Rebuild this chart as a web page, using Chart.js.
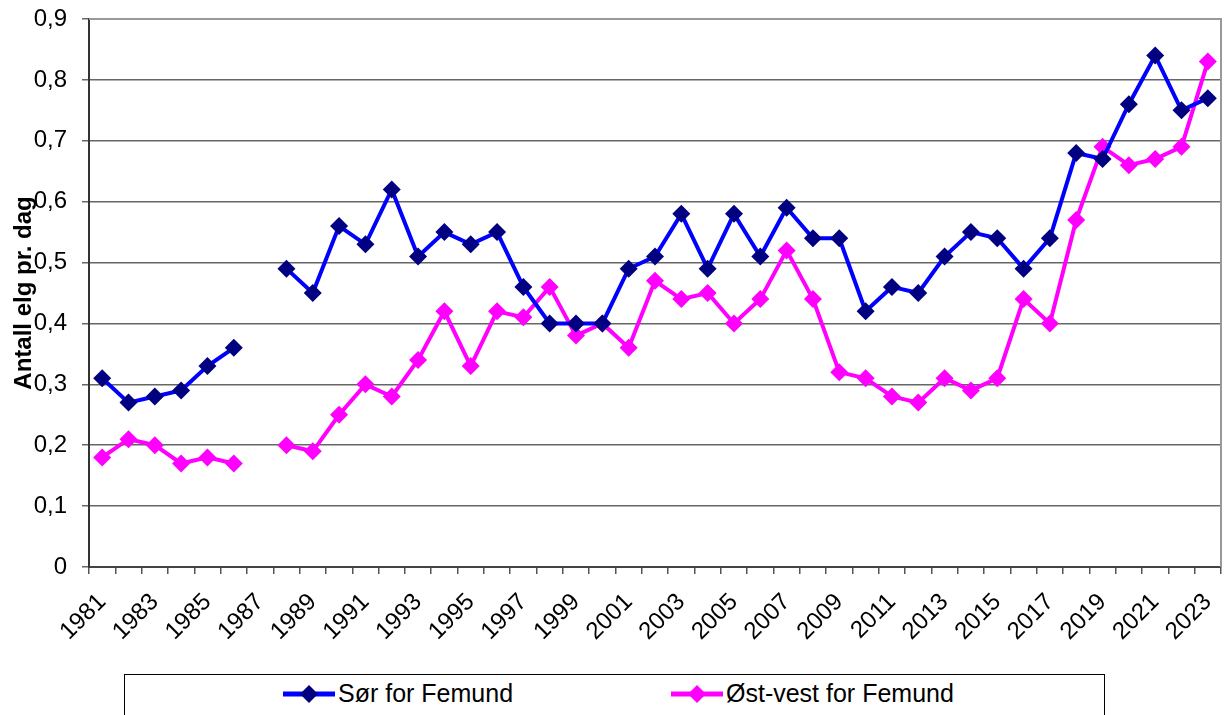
<!DOCTYPE html>
<html>
<head>
<meta charset="utf-8">
<script src="https://cdn.jsdelivr.net/npm/chart.js@4.4.1/dist/chart.umd.min.js"></script>
<style>
    body { margin: 0; background: #fff; }
    #wrap { position: relative; width: 1230px; height: 715px; overflow: hidden; }
    #legend {
        position: absolute; left: 124px; top: 674px; width: 979px; height: 60px;
        border: 1.5px solid #000; background: #fff;
        font-family: Arial, "Liberation Sans", sans-serif; font-size: 25px; color: #000;
    }
    .item { position: absolute; top: 4px; display: flex; align-items: center; white-space: nowrap; }
    .item svg { margin-right: 3px; }
</style>
</head>
<body>
<div id="wrap">
    <canvas id="elgChart" width="1230" height="715"></canvas>
    <div id="legend"></div>
</div>
<script>
// Years (1987 has no data)
const years = ['1981','1982','1983','1984','1985','1986','1987','1988','1989','1990',
    '1991','1992','1993','1994','1995','1996','1997','1998','1999','2000',
    '2001','2002','2003','2004','2005','2006','2007','2008','2009','2010',
    '2011','2012','2013','2014','2015','2016','2017','2018','2019','2020',
    '2021','2022','2023'];

const sorForFemund = [0.31, 0.27, 0.28, 0.29, 0.33, 0.36, null, 0.49, 0.45, 0.56,
    0.53, 0.62, 0.51, 0.55, 0.53, 0.55, 0.46, 0.40, 0.40, 0.40,
    0.49, 0.51, 0.58, 0.49, 0.58, 0.51, 0.59, 0.54, 0.54, 0.42,
    0.46, 0.45, 0.51, 0.55, 0.54, 0.49, 0.54, 0.68, 0.67, 0.76,
    0.84, 0.75, 0.77];

const ostVestForFemund = [0.18, 0.21, 0.20, 0.17, 0.18, 0.17, null, 0.20, 0.19, 0.25,
    0.30, 0.28, 0.34, 0.42, 0.33, 0.42, 0.41, 0.46, 0.38, 0.40,
    0.36, 0.47, 0.44, 0.45, 0.40, 0.44, 0.52, 0.44, 0.32, 0.31,
    0.28, 0.27, 0.31, 0.29, 0.31, 0.44, 0.40, 0.57, 0.69, 0.66,
    0.67, 0.69, 0.83];

const fontFamily = 'Arial, "Liberation Sans", sans-serif';

// Grey frame on top/right of the plot area
const frame = {
    id: 'frame',
    afterDraw(chart) {
        const { ctx, chartArea: a } = chart;
        ctx.save();
        ctx.strokeStyle = '#999';
        ctx.lineWidth = 2;
        ctx.beginPath();
        ctx.moveTo(a.left, a.top);
        ctx.lineTo(a.right, a.top);
        ctx.lineTo(a.right, a.bottom);
        ctx.stroke();
        ctx.restore();
    }
};

const ctx = document.getElementById('elgChart').getContext('2d');
const elgChart = new Chart(ctx, {
    type: 'line',
    data: {
        labels: years,
        datasets: [{
            label: 'Sør for Femund',
            data: sorForFemund,
            borderColor: '#0000ff',
            borderWidth: 4,
            pointStyle: 'rectRot',
            pointRadius: 9,
            pointBackgroundColor: '#000080',
            pointBorderColor: '#000080',
            pointBorderWidth: 0,
            spanGaps: false,
            tension: 0
        }, {
            label: 'Øst-vest for Femund',
            data: ostVestForFemund,
            borderColor: '#ff00ff',
            borderWidth: 4,
            pointStyle: 'rectRot',
            pointRadius: 9,
            pointBackgroundColor: '#ff00ff',
            pointBorderColor: '#ff00ff',
            pointBorderWidth: 0,
            spanGaps: false,
            tension: 0
        }]
    },
    options: {
        responsive: false,
        animation: false,
        layout: { padding: { top: 19, right: 5, left: 0, bottom: 0 } },
        plugins: { legend: { display: false }, tooltip: { enabled: false } },
        scales: {
            x: {
                offset: true,
                grid: { offset: true, drawOnChartArea: false, tickLength: 7, color: '#555', lineWidth: 1.5 },
                border: { color: '#444', width: 2 },
                ticks: {
                    autoSkip: false, minRotation: 45, maxRotation: 45, padding: 14,
                    color: '#000', font: { size: 24, family: fontFamily },
                    callback: (v, i) => (i % 2 === 0 ? years[i] : '')
                },
                afterFit: s => { s.height = 148; s.paddingLeft = 0; s.paddingRight = 0; }
            },
            y: {
                min: 0, max: 0.9,
                grid: { color: '#666', lineWidth: 1.5, tickLength: 7 },
                border: { color: '#333', width: 2 },
                ticks: {
                    stepSize: 0.1, padding: 15, color: '#000',
                    font: { size: 24, family: fontFamily },
                    callback: v => (v === 0 ? '0' : v.toFixed(1).replace('.', ','))
                },
                title: {
                    display: true, text: 'Antall elg pr. dag', color: '#000',
                    font: { size: 24, weight: 'bold', family: fontFamily },
                    padding: { top: 10, bottom: 0 }
                },
                afterFit: s => { s.width = 89; s.paddingTop = 0; s.paddingBottom = 0; }
            }
        }
    },
    plugins: [frame]
});

// Legend in a box under the chart, built from the datasets
const legendPos = [158, 546];
const legendEl = document.getElementById('legend');
elgChart.data.datasets.forEach((ds, i) => {
    const item = document.createElement('div');
    item.className = 'item';
    item.style.left = legendPos[i] + 'px';
    item.innerHTML = `<svg width="52" height="24"><line x1="0" y1="12" x2="52" y2="12" stroke="${ds.borderColor}" stroke-width="5"/>
        <polygon points="26,3 35,12 26,21 17,12" fill="${ds.pointBackgroundColor}"/></svg><span>${ds.label}</span>`;
    legendEl.appendChild(item);
});
</script>
</body>
</html>
